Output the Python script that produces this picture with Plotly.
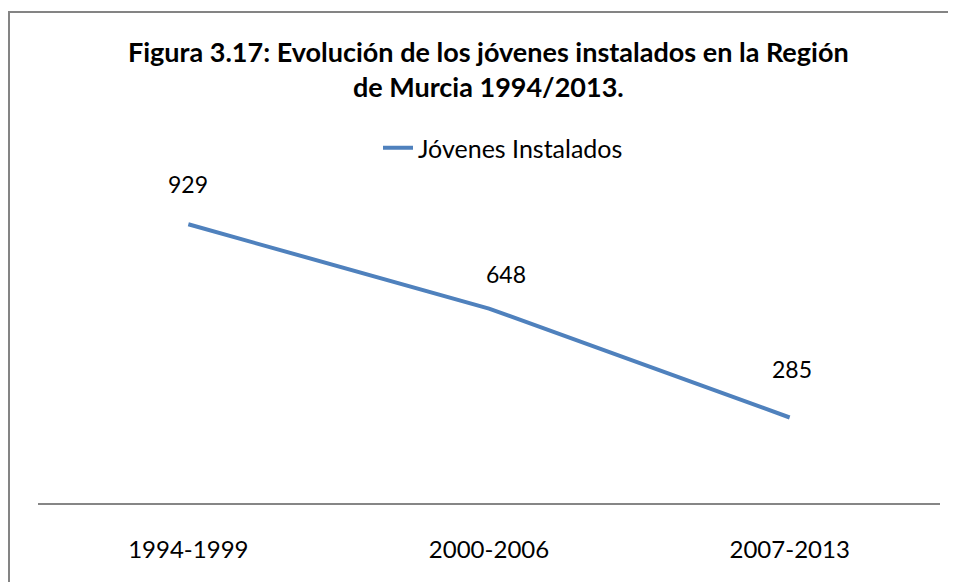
import plotly.graph_objects as go

categories = ["1994-1999", "2000-2006", "2007-2013"]
jovenes = [929, 648, 285]
series_name = "Jóvenes Instalados"
title_text = "<b>Figura 3.17: Evolución de los jóvenes instalados en la Región<br>de Murcia 1994/2013.</b>"

# label placement (styling, pixels)
label_xshift = [0, 17, 2]
label_yshift = [40, 35, 49]

FONT = "Lato, Open Sans, sans-serif"
W, H = 956, 582
OFF = 8  # page body margin
L, R, T, B = 38 - OFF, 16 + OFF, 203 - OFF, 79 + OFF
pw, ph = W - L - R, H - T - B
base = H - B  # figure y of zero line


def py(y_screen):
    return (base - (y_screen - OFF)) / ph


def px(x_screen):
    return (x_screen - OFF - L) / pw


fig = go.Figure()
fig.add_trace(go.Scatter(
    x=categories, y=jovenes, mode="lines", name=series_name,
    line=dict(color="#4f81bd", width=4),
))

for c, v, dx, dy in zip(categories, jovenes, label_xshift, label_yshift):
    fig.add_annotation(x=c, y=v, text=str(v), showarrow=False, xshift=dx, yshift=dy,
                       font=dict(family=FONT, size=23, color="#000000"))

fig.add_annotation(xref="paper", yref="paper", x=px(488), y=py(69),
                   text=title_text, showarrow=False, xanchor="center", yanchor="middle",
                   font=dict(family=FONT, size=27, color="#000000"), align="center")

fig.add_shape(type="rect", xref="paper", yref="paper",
              x0=(1 - L) / pw, x1=(W + 20 - L) / pw,
              y0=(base - (H + 20)) / ph, y1=(base - 4) / ph,
              line=dict(color="#848484", width=2), fillcolor="rgba(0,0,0,0)", layer="below")

fig.update_layout(
    width=W, height=H,
    margin=dict(l=L, r=R, t=T, b=B),
    paper_bgcolor="white", plot_bgcolor="white",
    showlegend=True,
    legend=dict(orientation="h", x=px(503), xanchor="center",
                y=py(148), yanchor="middle",
                font=dict(family=FONT, size=25, color="#000000"),
                bgcolor="rgba(0,0,0,0)"),
    xaxis=dict(range=[-0.5, 2.5], showgrid=False, zeroline=False,
               showline=True, linecolor="#868686", linewidth=1.5,
               ticks="", ticklabelstandoff=24,
               tickfont=dict(family=FONT, size=24, color="#000000")),
    yaxis=dict(range=[0, 1000], visible=False),
    font=dict(family=FONT),
)

fig.write_html("out.html")
